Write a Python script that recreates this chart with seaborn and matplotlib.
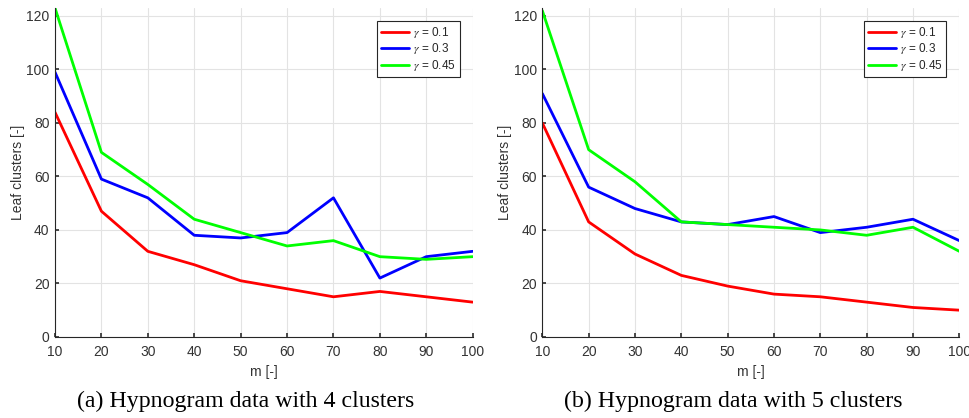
import matplotlib
matplotlib.use("Agg")
import matplotlib.pyplot as plt
import seaborn as sns
import pandas as pd

m_values = [10, 20, 30, 40, 50, 60, 70, 80, 90, 100]
gamma_labels = ["$\\gamma$ = 0.1", "$\\gamma$ = 0.3", "$\\gamma$ = 0.45"]
colors = ["#ff0000", "#0000ff", "#00ff00"]

# (a) 4 clusters
a_g01 = [84, 47, 32, 27, 21, 18, 15, 17, 15, 13]
a_g03 = [99, 59, 52, 38, 37, 39, 52, 22, 30, 32]
a_g045 = [123, 69, 57, 44, 39, 34, 36, 30, 29, 30]

# (b) 5 clusters
b_g01 = [80, 43, 31, 23, 19, 16, 15, 13, 11, 10]
b_g03 = [91, 56, 48, 43, 42, 45, 39, 41, 44, 36]
b_g045 = [122, 70, 58, 43, 42, 41, 40, 38, 41, 32]

captions = ["(a) Hypnogram data with 4 clusters", "(b) Hypnogram data with 5 clusters"]

sns.set_theme(style="whitegrid")
plt.rcParams["font.family"] = ["Liberation Sans", "DejaVu Sans"]
plt.rcParams["mathtext.fontset"] = "stix"

fig = plt.figure(figsize=(9.7, 4.18), dpi=100)
axes = [fig.add_axes([0.0567, 0.194, 0.4306, 0.787]),
        fig.add_axes([0.5591, 0.194, 0.4299, 0.787])]
caption_x = [0.2536, 0.7557]

datasets = [[a_g01, a_g03, a_g045], [b_g01, b_g03, b_g045]]

for ax, series, cap, cx in zip(axes, datasets, captions, caption_x):
    frames = []
    for lab, vals in zip(gamma_labels, series):
        frames.append(pd.DataFrame({"m": m_values, "clusters": vals, "gamma": lab}))
    df = pd.concat(frames, ignore_index=True)
    sns.lineplot(data=df, x="m", y="clusters", hue="gamma", palette=colors,
                 linewidth=2, ax=ax, legend=True)
    ax.set_xlim(10, 100)
    ax.set_ylim(0, 123)
    ax.set_xticks(m_values)
    ax.set_yticks([0, 20, 40, 60, 80, 100, 120])
    ax.set_xlabel("m [-]", fontsize=10, color="#333333", labelpad=4)
    ax.set_ylabel("Leaf clusters [-]", fontsize=10, color="#333333", labelpad=1)
    ax.tick_params(axis="x", labelsize=10, colors="#333333", length=3, direction="in",
                   bottom=True, pad=6)
    ax.tick_params(axis="y", labelsize=10, colors="#333333", length=3, direction="in",
                   left=True, pad=4)
    ax.grid(True, color="#e3e3e3", linewidth=0.8)
    for side in ["top", "right"]:
        ax.spines[side].set_visible(False)
    for side in ["left", "bottom"]:
        ax.spines[side].set_color("#262626")
        ax.spines[side].set_linewidth(0.8)
    leg = ax.legend(loc="upper right", fontsize=8.5,
                    frameon=True, fancybox=False, edgecolor="#262626",
                    handlelength=2.4, handletextpad=0.3, borderpad=0.35,
                    labelspacing=0.12, borderaxespad=1.1)
    leg.get_frame().set_linewidth(0.8)
    leg.get_frame().set_alpha(1)
    fig.text(cx, 1 - 401.5 / 418, cap, ha="center", va="center",
             fontsize=17.2, family=["Liberation Serif", "DejaVu Serif"], color="black")

fig.savefig("out.png", dpi=100)
